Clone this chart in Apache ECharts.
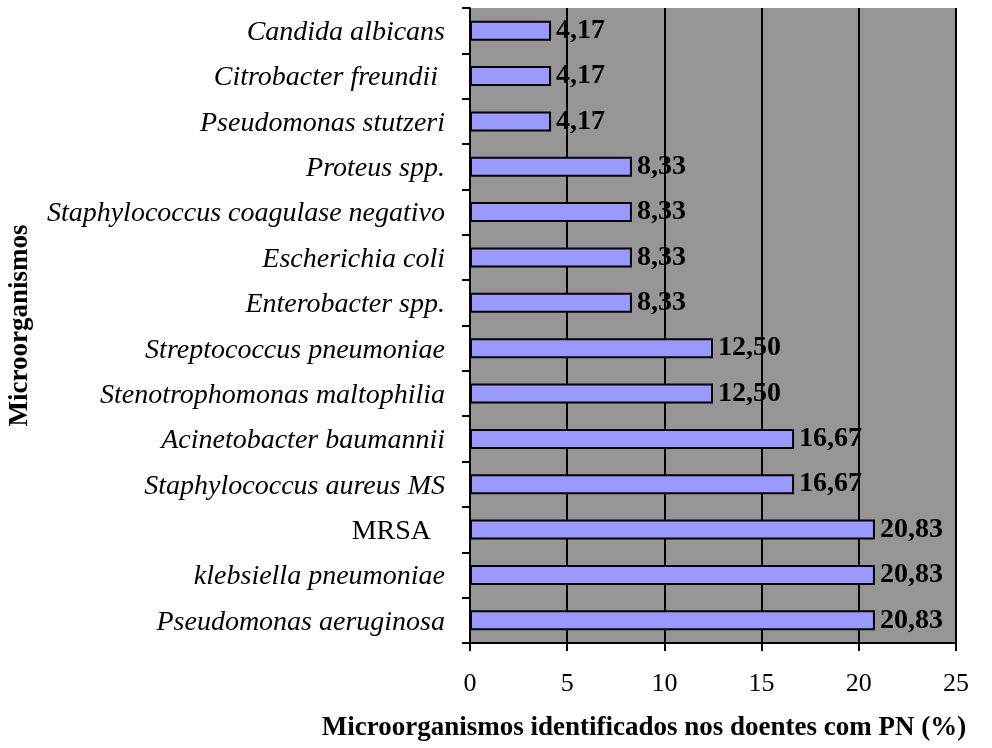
<!DOCTYPE html>
<html>
<head>
<meta charset="utf-8">
<script src="https://cdn.jsdelivr.net/npm/echarts@6/dist/echarts.min.js"></script>
<style>
  html, body { margin: 0; padding: 0; background: #ffffff; }
  #chart { width: 992px; height: 748px; }
</style>
</head>
<body>
<div id="chart"></div>
<script>
// Organisms, listed top to bottom
const organisms = [
  'Candida albicans',
  'Citrobacter freundii ',
  'Pseudomonas stutzeri',
  'Proteus spp.',
  'Staphylococcus coagulase negativo',
  'Escherichia coli',
  'Enterobacter spp.',
  'Streptococcus pneumoniae',
  'Stenotrophomonas maltophilia',
  'Acinetobacter baumannii',
  'Staphylococcus aureus MS',
  'MRSA',
  'klebsiella pneumoniae',
  'Pseudomonas aeruginosa'
];

// Percentage of identified organisms
const percentages = [4.17, 4.17, 4.17, 8.33, 8.33, 8.33, 8.33, 12.50, 12.50, 16.67, 16.67, 20.83, 20.83, 20.83];

// Value axis ticks
const xTicks = [0, 5, 10, 15, 20, 25];

const serif = '"Liberation Serif", "Times New Roman", serif';

const chart = echarts.init(document.getElementById('chart'));
chart.setOption({
  animation: false,
  backgroundColor: '#ffffff',
  grid: {
    left: 470, right: 36, top: 8, bottom: 105,
    show: true, backgroundColor: '#969696', borderWidth: 0
  },
  xAxis: {
    type: 'value',
    min: xTicks[0],
    max: xTicks[xTicks.length - 1],
    interval: 5,
    name: 'Microorganismos identificados nos doentes com PN (%)',
    nameLocation: 'middle',
    nameGap: 72,
    nameTextStyle: {
      fontFamily: serif, fontWeight: 'bold', fontSize: 27, color: '#000',
      padding: [0, 138, 0, 0]
    },
    axisLine: { show: true, lineStyle: { color: '#000', width: 2 } },
    axisTick: { show: true, length: 8, lineStyle: { color: '#000', width: 2 } },
    axisLabel: { fontFamily: serif, fontSize: 26, color: '#000', margin: 28 },
    splitLine: { show: true, lineStyle: { color: '#000', width: 2 } }
  },
  yAxis: {
    type: 'category',
    inverse: true,
    data: organisms,
    name: 'Microorganismos',
    nameLocation: 'middle',
    nameGap: 436,
    nameRotate: 90,
    nameTextStyle: { fontFamily: serif, fontWeight: 'bold', fontSize: 27, color: '#000' },
    axisLine: { show: true, lineStyle: { color: '#000', width: 2 } },
    axisTick: { show: true, length: 8, lineStyle: { color: '#000', width: 2 } },
    axisLabel: {
      margin: 25,
      formatter: function (v) {
        return v === 'MRSA' ? '{plain|MRSA  }' : '{it|' + v + '}';
      },
      rich: {
        it: { fontFamily: serif, fontStyle: 'italic', fontSize: 28, color: '#000', padding: [4, 0, 0, 0] },
        plain: { fontFamily: serif, fontSize: 28, color: '#000', padding: [4, 0, 0, 0] }
      }
    }
  },
  series: [{
    type: 'bar',
    data: percentages,
    barWidth: 20,
    itemStyle: { color: '#9999ff', borderColor: '#000', borderWidth: 2 },
    label: {
      show: true,
      position: 'right',
      distance: 5,
      fontFamily: serif,
      fontWeight: 'bold',
      fontSize: 28,
      color: '#000',
      padding: [4, 0, 0, 0],
      formatter: function (p) { return p.value.toFixed(2).replace('.', ','); }
    }
  }]
});
</script>
</body>
</html>
